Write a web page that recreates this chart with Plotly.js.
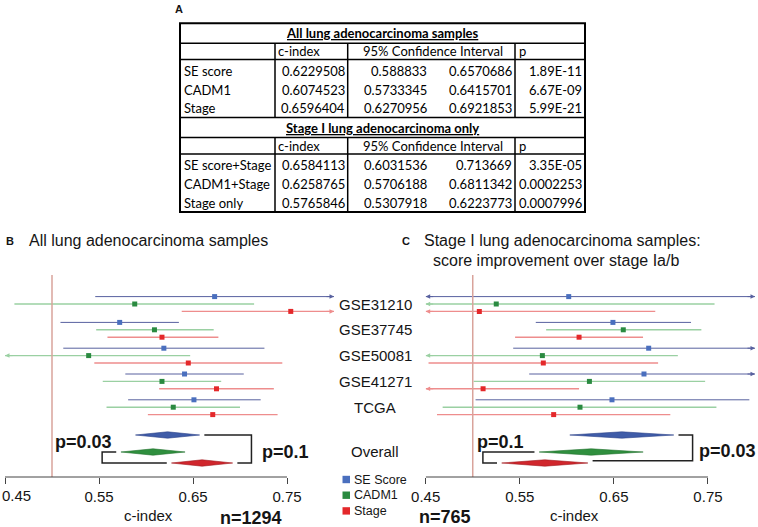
<!DOCTYPE html>
<html><head><meta charset="utf-8">
<script src="https://cdn.plot.ly/plotly-3.0.1.min.js"></script>
<style>html,body{margin:0;padding:0;background:#fff}#chart{width:758px;height:527px}</style>
</head><body><div id="chart"></div>
<script>
// ---------------- DATA ----------------
const studies = ['GSE31210','GSE37745','GSE50081','GSE41271','TCGA'];
const seriesNames = ['SE Score','CADM1','Stage'];

// Panel B: all lung adenocarcinoma samples (c-index, 95% CI)
const bSeEst    = [0.673, 0.572, 0.619, 0.641, 0.651];
const bSeLo     = [0.546, 0.509, 0.512, 0.578, 0.581];
const bSeHi     = [0.840, 0.635, 0.726, 0.704, 0.722];
const bCadmEst  = [0.588, 0.609, 0.539, 0.617, 0.629];
const bCadmLo   = [0.460, 0.547, 0.420, 0.554, 0.558];
const bCadmHi   = [0.715, 0.672, 0.647, 0.680, 0.700];
const bStageEst = [0.754, 0.617, 0.645, 0.675, 0.671];
const bStageLo  = [0.638, 0.559, 0.545, 0.614, 0.602];
const bStageHi  = [0.870, 0.677, 0.745, 0.736, 0.740];

// Panel C: stage I samples, score + stage
const cSeEst    = [0.602, 0.649, 0.687, 0.682, 0.648];
const cSeLo     = [0.400, 0.567, 0.543, 0.560, 0.503];
const cSeHi     = [0.820, 0.732, 0.830, 0.810, 0.794];
const cCadmEst  = [0.525, 0.660, 0.574, 0.624, 0.614];
const cCadmLo   = [0.400, 0.578, 0.420, 0.501, 0.468];
const cCadmHi   = [0.757, 0.743, 0.718, 0.747, 0.759];
const cStageEst = [0.507, 0.613, 0.575, 0.511, 0.586];
const cStageLo  = [0.400, 0.545, 0.453, 0.430, 0.462];
const cStageHi  = [0.694, 0.681, 0.697, 0.613, 0.710];

// Table A
const tA_title = 'All lung adenocarcinoma samples';
const tA_labels = ['SE score','CADM1','Stage'];
const tA_cindex = [0.6229508, 0.6074523, 0.6596404];
const tA_ciLo   = [0.588833, 0.5733345, 0.6270956];
const tA_ciHi   = [0.6570686, 0.6415701, 0.6921853];
const tA_p      = ['1.89E-11','6.67E-09','5.99E-21'];
const tB_title = 'Stage I lung adenocarcinoma only';
const tB_labels = ['SE score+Stage','CADM1+Stage','Stage only'];
const tB_cindex = [0.6584113, 0.6258765, 0.5765846];
const tB_ciLo   = [0.6031536, 0.5706188, 0.5307918];
const tB_ciHi   = [0.713669, 0.6811342, 0.6223773];
const tB_p      = ['3.35E-05','0.0002253','0.0007996'];
const tHeader = ['c-index','95% Confidence Interval','p'];

const tickVals = [0.45, 0.55, 0.65, 0.75];
const pB = ['p=0.03','p=0.1'];
const pC = ['p=0.1','p=0.03'];
const nB = 'n=1294', nC = 'n=765';

// ---------------- STYLE / LAYOUT ----------------
const W = 758, H = 527;
const PX = x => x / W, PY = y => 1 - y / H;
const FONT = 'Liberation Sans, Arial, sans-serif';
const TFONT = 'Lato, Liberation Sans, sans-serif';
const INK = '#151515';
const XMIN = 0.45, XMAX = 0.80;
const lineCol = ['#58619f', '#9ad0a2', '#ee8d8d'];
const lineW = [1, 1.4, 1.4];
const markCol = ['#4a6fbe', '#2a8a40', '#e4282a'];
const diaCol = ['#3f5ca8', '#2f8f3e', '#d0262c'];
const diaEdge = ['#2c4288', '#21702e', '#a01b20'];
const groupY = i => 304 + i * 25.8;
const offs = [-7.4, 0, 7.4];
const overallY = [435, 452, 463];
const DH = 3.2;

const traces = [], shapes = [], annotations = [];

function panel(xa, est, lo, hi, tbl, pLabels, pLeftPos, pRightPos) {
  for (let s = 0; s < 3; s++) {
    const lx = [], ly = [], mx = [], my = [];
    for (let i = 0; i < studies.length; i++) {
      const y = groupY(i) + offs[s];
      const a = Math.max(lo[s][i], XMIN), b = Math.min(hi[s][i], XMAX);
      lx.push(a, b, null); ly.push(y, y, null);
      mx.push(est[s][i]); my.push(y);
      if (hi[s][i] > XMAX) annotations.push({xref: xa, yref: 'y', x: XMAX, y: y, ax: -9, ay: 0,
        text: '', showarrow: true, arrowhead: 2, arrowsize: 0.9, arrowwidth: 1, arrowcolor: lineCol[s], standoff: 0});
      if (lo[s][i] < XMIN) annotations.push({xref: xa, yref: 'y', x: XMIN, y: y, ax: 9, ay: 0,
        text: '', showarrow: true, arrowhead: 2, arrowsize: 0.9, arrowwidth: 1, arrowcolor: lineCol[s], standoff: 0});
    }
    traces.push({type: 'scatter', mode: 'lines', x: lx, y: ly, xaxis: xa, yaxis: 'y',
      line: {color: lineCol[s], width: lineW[s]}, showlegend: false, hoverinfo: 'skip'});
    traces.push({type: 'scatter', mode: 'markers', x: mx, y: my, xaxis: xa, yaxis: 'y', name: seriesNames[s],
      marker: {symbol: 'square', size: 5, color: markCol[s]}, showlegend: false});
    // overall diamond
    const yo = overallY[s];
    const c = tbl.c[s], l = tbl.lo[s], h = tbl.hi[s];
    traces.push({type: 'scatter', mode: 'lines', x: [l, c, h, c, l], y: [yo, yo - DH, yo, yo + DH, yo],
      xaxis: xa, yaxis: 'y', fill: 'toself', fillcolor: diaCol[s], line: {color: diaEdge[s], width: 0.6},
      showlegend: false, hoverinfo: 'skip'});
  }
  // brackets
  const gap = 0.005, out = 0.02;
  const leftX = Math.min(tbl.lo[1], tbl.lo[2]) - out;
  const rightX = Math.max(tbl.hi[0], tbl.hi[2]) + out;
  traces.push({type: 'scatter', mode: 'lines', xaxis: xa, yaxis: 'y',
    x: [tbl.lo[1] - gap, leftX, leftX, tbl.lo[2] - gap, null, tbl.hi[0] + gap, rightX, rightX, tbl.hi[2] + gap],
    y: [overallY[1], overallY[1], overallY[2], overallY[2], null, overallY[0], overallY[0], overallY[2] - pRightPos.dy, overallY[2] - pRightPos.dy],
    line: {color: '#222', width: 1.5}, showlegend: false, hoverinfo: 'skip'});
  annotations.push(txt(pLeftPos.x, pLeftPos.y, '<b>' + pLabels[0] + '</b>', 18, 'center'));
  annotations.push(txt(pRightPos.x, pRightPos.y, '<b>' + pLabels[1] + '</b>', 18, 'center'));
  // reference line at 0.5
  shapes.push({type: 'line', xref: xa, yref: 'y', x0: 0.5, x1: 0.5, y0: 275, y1: 477,
    line: {color: '#d9a39b', width: 1.5}});
  // axis line (0.45 to 0.75)
  shapes.push({type: 'line', xref: xa, yref: 'y', x0: tickVals[0], x1: tickVals[tickVals.length - 1], y0: 477, y1: 477,
    line: {color: '#444', width: 1}});
}

function txt(x, y, text, size, anchor, extra) {
  return Object.assign({xref: 'paper', yref: 'paper', x: PX(x), y: PY(y), text: text, showarrow: false,
    xanchor: anchor || 'center', yanchor: 'middle', borderpad: 0,
    font: {family: FONT, size: size || 15, color: INK}}, extra || {});
}
function ttxt(x, y, text, anchor, bold) {
  const a = txt(x, y, text, 13, anchor);
  a.font = {family: TFONT, size: 13, color: '#000', weight: bold ? 'bold' : 'normal'};
  if (bold) a.font.lineposition = 'under';
  return a;
}

panel('x', [bSeEst, bCadmEst, bStageEst], [bSeLo, bCadmLo, bStageLo], [bSeHi, bCadmHi, bStageHi],
  {c: tA_cindex, lo: tA_ciLo, hi: tA_ciHi}, pB, {x: 83, y: 442}, {x: 285.5, y: 451.7, dy: 0});
panel('x2', [cSeEst, cCadmEst, cStageEst], [cSeLo, cCadmLo, cStageLo], [cSeHi, cCadmHi, cStageHi],
  {c: tB_cindex, lo: tB_ciLo, hi: tB_ciHi}, pC, {x: 500.5, y: 442.3}, {x: 727, y: 450.7, dy: 2.3});

// study labels
studies.forEach((s, i) => annotations.push(txt(375, groupY(i), s, 15)));
annotations.push(txt(375, 451.7, 'Overall', 15));

// legend (manual)
seriesNames.forEach((s, i) => {
  const yc = 479.5 + i * 15.7;
  shapes.push({type: 'rect', xref: 'paper', yref: 'paper', x0: PX(342.5), x1: PX(350), y0: PY(yc - 3.7), y1: PY(yc + 3.7),
    fillcolor: markCol[i], line: {width: 0}});
  annotations.push(txt(353, yc, s, 12.5, 'left'));
});

// first tick label of panel B sits inside the figure edge
annotations.push(txt(16.5, 495.5, tickVals[0].toFixed(2), 15));

// axis titles and n
annotations.push(txt(148.8, 515, 'c-index', 15));
annotations.push(txt(574, 515, 'c-index', 15));
annotations.push(txt(250.7, 518.3, '<b>' + nB + '</b>', 18));
annotations.push(txt(445.3, 517.3, '<b>' + nC + '</b>', 18));

// panel titles
annotations.push(txt(179, 9, '<b>A</b>', 11));
annotations.push(txt(10, 241, '<b>B</b>', 11));
annotations.push(txt(148.5, 241, 'All lung adenocarcinoma samples', 16));
annotations.push(txt(405.5, 241, '<b>C</b>', 11));
annotations.push(txt(562.7, 241, 'Stage I lung adenocarcinoma samples:', 16));
annotations.push(txt(556, 260, 'score improvement over stage Ia/b', 16));

// ---------------- TABLE ----------------
const TL = 180, TR = 585, C1 = 275, C2 = 347.7, C3 = 515;
function hline(y, x0, x1, w) { shapes.push({type: 'line', xref: 'paper', yref: 'paper', x0: PX(x0), x1: PX(x1), y0: PY(y), y1: PY(y), line: {color: '#000', width: w}}); }
function vline(x, y0, y1, w) { shapes.push({type: 'line', xref: 'paper', yref: 'paper', x0: PX(x), x1: PX(x), y0: PY(y0), y1: PY(y1), line: {color: '#000', width: w}}); }
function tableSection(top, title, labels, cidx, lo, hi, p) {
  const hTitle = top + 20, hHead = hTitle + 16.3, bottom = hHead + 58;
  hline(hTitle, TL, TR, 1.5); hline(hHead, TL, TR, 1.5);
  [C1, C2, C3].forEach(x => vline(x, hTitle, bottom, 1.5));
  annotations.push(ttxt((TL + TR) / 2, top + 10, title, 'center', true));
  annotations.push(ttxt(C1 + 2, hTitle + 8, tHeader[0], 'left'));
  annotations.push(ttxt(433, hTitle + 8, tHeader[1], 'center'));
  annotations.push(ttxt(C3 + 3, hTitle + 8, tHeader[2], 'left'));
  labels.forEach((lab, i) => {
    const y = hHead + 11.3 + i * 18.7;
    annotations.push(ttxt(TL + 3, y, lab, 'left'));
    annotations.push(ttxt(C2 - 2, y, String(cidx[i]), 'right'));
    annotations.push(ttxt(428.5, y, String(lo[i]), 'right'));
    annotations.push(ttxt(C3 - 2, y, String(hi[i]), 'right'));
    annotations.push(ttxt(TR - 2, y, p[i], 'right'));
  });
  return bottom;
}
const b1 = tableSection(23.3, tA_title, tA_labels, tA_cindex, tA_ciLo, tA_ciHi, tA_p);
hline(b1, TL, TR, 1.5);
const b2 = tableSection(b1, tB_title, tB_labels, tB_cindex, tB_ciLo, tB_ciHi, tB_p);
shapes.push({type: 'rect', xref: 'paper', yref: 'paper', x0: PX(TL), x1: PX(TR), y0: PY(23.3), y1: PY(b2),
  line: {color: '#000', width: 2}, fillcolor: 'rgba(0,0,0,0)'});

// ---------------- AXES ----------------
function xAxis(dom, first) {
  return {domain: dom, range: [XMIN, XMAX], anchor: 'free', position: PY(477),
    tickvals: tickVals, ticktext: tickVals.map((v, i) => (i === 0 && first) ? '' : v.toFixed(2)),
    ticks: 'outside', ticklen: 6, tickwidth: 1, tickcolor: '#444',
    showline: false, showgrid: false, zeroline: false, fixedrange: true,
    tickfont: {family: FONT, size: 15, color: INK}};
}
const layout = {
  width: W, height: H, margin: {l: 0, r: 0, t: 0, b: 0},
  paper_bgcolor: '#fff', plot_bgcolor: 'rgba(0,0,0,0)', showlegend: false,
  xaxis: xAxis([5 / W, 334 / W], true),
  xaxis2: xAxis([425.7 / W, 755 / W], false),
  yaxis: {domain: [0, 1], range: [H, 0], visible: false, fixedrange: true},
  shapes: shapes, annotations: annotations
};
Plotly.newPlot('chart', traces, layout, {staticPlot: true, displayModeBar: false});
</script></body></html>
